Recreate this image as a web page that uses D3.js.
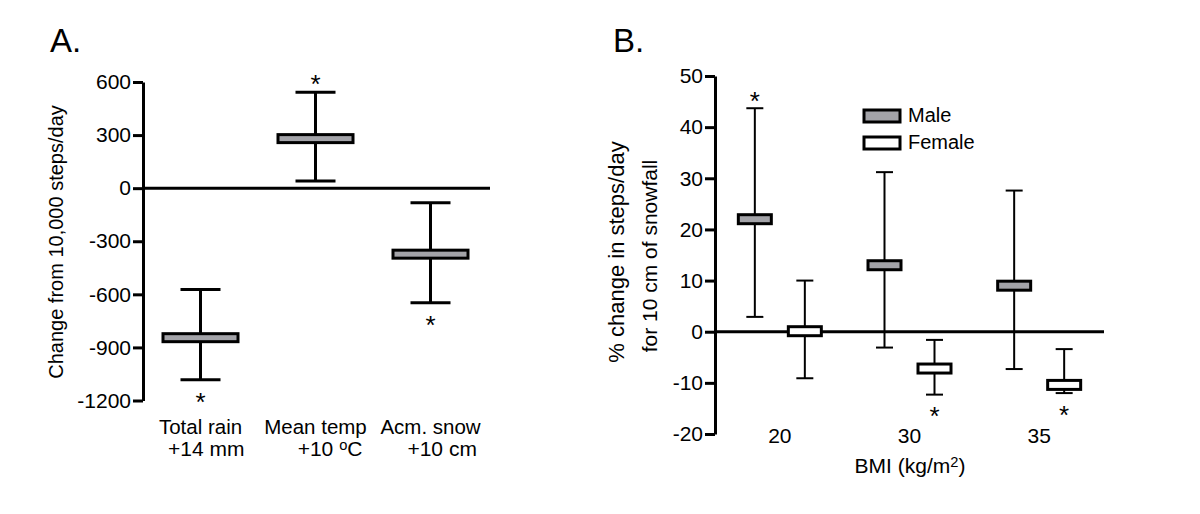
<!DOCTYPE html>
<html>
<head>
<meta charset="utf-8">
<script src="https://cdn.jsdelivr.net/npm/d3@7"></script>
<style>
body { margin: 0; background: #fff; }
text { font-family: "Liberation Sans", Arial, sans-serif; fill: #000; }
</style>
</head>
<body>
<div id="chart"></div>
<script>
// panel A: weather effects
var weatherCats = ["Total rain", "Mean temp", "Acm. snow"]
var weatherSub = ["  +14 mm", "     +10 {o}C", "    +10 cm"]
var weatherMean = [-845, 280, -373]
var weatherLow = [-1083, 40, -647]
var weatherHigh = [-573, 542, -83]
var weatherStar = ["below", "above", "below"]
var weatherTicks = [600, 300, 0, -300, -600, -900, -1200]

// panel B: snowfall by BMI and sex
var bmiCats = ["20", "30", "35"]
var sexes = ["Male", "Female"]
var maleMean = [22, 13, 9]
var maleLow = [2.9, -3.1, -7.3]
var maleHigh = [43.7, 31.2, 27.6]
var maleStar = ["above", "", ""]
var femaleMean = [0.1, -7.2, -10.4]
var femaleLow = [-9.1, -12.3, -12.0]
var femaleHigh = [10, -1.6, -3.4]
var femaleStar = ["", "below", "below"]
var bmiTicks = [50, 40, 30, 20, 10, 0, -10, -20]

var grey = "#a3a3a8"
var svg = d3.select("#chart").append("svg").attr("width", 1200).attr("height", 514)

// writes "abc{sup}def" with superscripts
function richText(sel, str, size) {
    var parts = str.split(/(\{[^}]*\})/)
    var up = false
    parts.forEach(function(p) {
        if (p == "") return
        if (p[0] == "{") {
            sel.append("tspan").attr("font-size", size * 0.7).attr("dy", -size * 0.3).text(p.slice(1, -1))
            up = true
        } else {
            var t = sel.append("tspan").text(p)
            if (up) { t.attr("dy", size * 0.3); up = false }
        }
    })
}

function star(g, x, capY, where, above, below) {
    if (where == "") return
    var y = where == "above" ? capY - above : capY + below
    g.append("text").attr("x", x).attr("y", y).attr("text-anchor", "middle")
        .attr("font-size", 26).text("*")
}

// ---------- panel A ----------
var yA = d3.scaleLinear().domain([-1200, 600]).range([400.5, 82])
var xA = d3.scaleBand().domain(weatherCats).range([143, 488])
var gA = svg.append("g")

gA.append("text").attr("x", 50).attr("y", 52).attr("font-size", 33).text("A.")

gA.append("line").attr("x1", 143).attr("x2", 490)
    .attr("y1", yA(0)).attr("y2", yA(0)).attr("stroke", "#000").attr("stroke-width", 3)

var axA = gA.append("g").attr("transform", "translate(143,0)")
    .call(d3.axisLeft(yA).tickValues(weatherTicks).tickFormat(function(d) { return String(d) })
        .tickSize(10).tickSizeOuter(0).tickPadding(2))
axA.selectAll("path,line").attr("stroke", "#000").attr("stroke-width", 3)
axA.selectAll("text").attr("font-size", 21).attr("font-family", "Liberation Sans, Arial, sans-serif")

gA.append("text").attr("transform", "translate(63,242) rotate(-90)")
    .attr("text-anchor", "middle").attr("font-size", 20).text("Change from 10,000 steps/day")

weatherCats.forEach(function(c, i) {
    var cx = xA(c) + xA.bandwidth() / 2
    var w = gA.append("g")
    w.append("line").attr("x1", cx).attr("x2", cx).attr("y1", yA(weatherHigh[i])).attr("y2", yA(weatherLow[i]))
    w.append("line").attr("x1", cx - 20).attr("x2", cx + 20).attr("y1", yA(weatherHigh[i])).attr("y2", yA(weatherHigh[i]))
    w.append("line").attr("x1", cx - 20).attr("x2", cx + 20).attr("y1", yA(weatherLow[i])).attr("y2", yA(weatherLow[i]))
    w.selectAll("line").attr("stroke", "#000").attr("stroke-width", 3)
    w.append("rect").attr("x", cx - 37.5).attr("y", yA(weatherMean[i]) - 4).attr("width", 75).attr("height", 8)
        .attr("fill", grey).attr("stroke", "#000").attr("stroke-width", 3)
    var capY = weatherStar[i] == "above" ? yA(weatherHigh[i]) : yA(weatherLow[i])
    star(gA, cx, capY, weatherStar[i], -1, 31.5)

    gA.append("text").attr("x", cx).attr("y", 434).attr("text-anchor", "middle").attr("font-size", 20.5).text(c)
    var sub = gA.append("text").attr("x", cx).attr("y", 456).attr("text-anchor", "middle")
        .attr("font-size", 21).style("white-space", "pre")
    richText(sub, weatherSub[i], 21)
})

// ---------- panel B ----------
var yB = d3.scaleLinear().domain([-20, 50]).range([434, 76])
var xB = d3.scaleBand().domain(bmiCats).range([715, 1104])
var xSex = d3.scaleBand().domain(sexes).range([-50, 50])
var gB = svg.append("g")

gB.append("text").attr("x", 613).attr("y", 52).attr("font-size", 33).text("B.")

gB.append("line").attr("x1", 715).attr("x2", 1104)
    .attr("y1", yB(0)).attr("y2", yB(0)).attr("stroke", "#000").attr("stroke-width", 3)

var axB = gB.append("g").attr("transform", "translate(715,0)")
    .call(d3.axisLeft(yB).tickValues(bmiTicks).tickFormat(function(d) { return String(d) })
        .tickSize(10).tickSizeOuter(0).tickPadding(2))
axB.selectAll("path,line").attr("stroke", "#000").attr("stroke-width", 3)
axB.selectAll("text").attr("font-size", 21).attr("font-family", "Liberation Sans, Arial, sans-serif")

gB.append("text").attr("transform", "translate(624,252) rotate(-90)")
    .attr("text-anchor", "middle").attr("font-size", 22).text("% change in steps/day")
gB.append("text").attr("transform", "translate(657,256) rotate(-90)")
    .attr("text-anchor", "middle").attr("font-size", 21).text("for 10 cm of snowfall")

var series = [
    { sex: "Male", mean: maleMean, low: maleLow, high: maleHigh, stars: maleStar, fill: grey },
    { sex: "Female", mean: femaleMean, low: femaleLow, high: femaleHigh, stars: femaleStar, fill: "#fff" }
]

bmiCats.forEach(function(c, i) {
    var base = xB(c) + xB.bandwidth() / 2
    series.forEach(function(s) {
        var cx = base + xSex(s.sex) + xSex.bandwidth() / 2
        var w = gB.append("g")
        w.append("line").attr("x1", cx).attr("x2", cx).attr("y1", yB(s.high[i])).attr("y2", yB(s.low[i]))
        w.append("line").attr("x1", cx - 8.5).attr("x2", cx + 8.5).attr("y1", yB(s.high[i])).attr("y2", yB(s.high[i]))
        w.append("line").attr("x1", cx - 8.5).attr("x2", cx + 8.5).attr("y1", yB(s.low[i])).attr("y2", yB(s.low[i]))
        w.selectAll("line").attr("stroke", "#000").attr("stroke-width", 2)
        w.append("rect").attr("x", cx - 16.5).attr("y", yB(s.mean[i]) - 4.5).attr("width", 33).attr("height", 9)
            .attr("fill", s.fill).attr("stroke", "#000").attr("stroke-width", 3)
        var capY = s.stars[i] == "above" ? yB(s.high[i]) : yB(s.low[i])
        star(gB, cx, capY, s.stars[i], -2, 30.5)
    })
    gB.append("text").attr("x", base).attr("y", 443).attr("text-anchor", "middle").attr("font-size", 21).text(c)
})

var xlab = gB.append("text").attr("x", 910).attr("y", 473).attr("text-anchor", "middle").attr("font-size", 21)
richText(xlab, "BMI (kg/m{2})", 21)

// legend
var leg = gB.append("g").attr("transform", "translate(864,110)")
series.forEach(function(s, k) {
    leg.append("rect").attr("x", 0).attr("y", k * 27).attr("width", 36).attr("height", 12)
        .attr("fill", s.fill).attr("stroke", "#000").attr("stroke-width", 3)
    leg.append("text").attr("x", 44).attr("y", k * 27 + 12).attr("font-size", 20).text(s.sex)
})
</script>
</body>
</html>
